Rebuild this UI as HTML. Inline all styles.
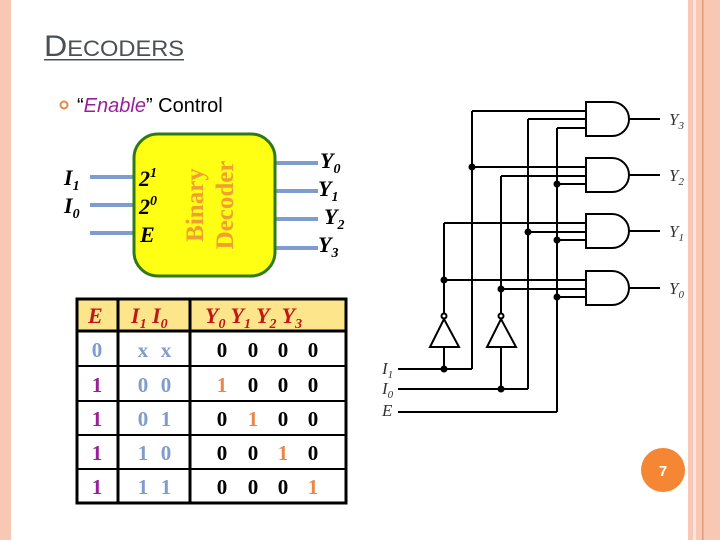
<!DOCTYPE html>
<html><head><meta charset="utf-8"><style>
body{margin:0;width:720px;height:540px;overflow:hidden;background:#fff}
svg{display:block}
</style></head><body>
<svg width="720" height="540" viewBox="0 0 720 540" xmlns="http://www.w3.org/2000/svg" font-family="Liberation Serif, serif">
<rect x="0" y="0" width="11" height="540" fill="#f8c8b4"/>
<rect x="688" y="0" width="32" height="540" fill="#f8c8b4"/>
<rect x="693" y="0" width="3" height="540" fill="#fce4d8"/>
<rect x="702" y="0" width="1.5" height="540" fill="#e59a7a"/>
<!-- title -->
<text x="44" y="56" font-family="Liberation Sans, sans-serif" fill="#4a5055" font-size="30" textLength="140" lengthAdjust="spacingAndGlyphs">D<tspan font-size="22">ECODERS</tspan></text>
<rect x="44" y="59" width="140" height="1.5" fill="#4a5055"/>
<circle cx="64" cy="105" r="3.5" fill="none" stroke="#e8874a" stroke-width="2"/>
<text x="77" y="112" font-family="Liberation Sans, sans-serif" font-size="20" fill="#000">“<tspan fill="#9a1f9a" font-style="italic">Enable</tspan>” Control</text>
<!-- block -->
<g stroke="#7f9ccf" stroke-width="4">
<line x1="90" y1="177" x2="134" y2="177"/><line x1="90" y1="205" x2="134" y2="205"/><line x1="90" y1="233" x2="134" y2="233"/>
<line x1="275" y1="163" x2="318" y2="163"/><line x1="275" y1="191" x2="318" y2="191"/><line x1="275" y1="219" x2="318" y2="219"/><line x1="275" y1="248" x2="318" y2="248"/>
</g>
<rect x="134" y="134" width="141" height="142" rx="24" fill="#ffff14" stroke="#2f7a16" stroke-width="3"/>
<g font-weight="bold" font-style="italic" font-size="22" fill="#000">
<text x="64" y="185">I<tspan font-size="14" dy="5">1</tspan></text>
<text x="64" y="213">I<tspan font-size="14" dy="5">0</tspan></text>
<text x="139" y="186">2<tspan font-size="14" dy="-9">1</tspan></text>
<text x="139" y="214">2<tspan font-size="14" dy="-9">0</tspan></text>
<text x="140" y="242">E</text>
<text x="320" y="168">Y<tspan font-size="14" dy="5">0</tspan></text>
<text x="318" y="196">Y<tspan font-size="14" dy="5">1</tspan></text>
<text x="324" y="224">Y<tspan font-size="14" dy="5">2</tspan></text>
<text x="318" y="252">Y<tspan font-size="14" dy="5">3</tspan></text>
</g>
<g font-size="25" font-weight="bold" fill="#f0a030" text-anchor="middle">
<text transform="translate(203,205) rotate(-90)">Binary</text>
<text transform="translate(233,205) rotate(-90)">Decoder</text>
</g>
<!-- table -->
<rect x="77" y="299" width="269" height="31" fill="#fce58a"/>
<g stroke="#000" stroke-width="3" fill="none">
<rect x="77" y="299" width="269" height="204"/>
<line x1="118" y1="299" x2="118" y2="503"/><line x1="190" y1="299" x2="190" y2="503"/>
<line x1="77" y1="331" x2="346" y2="331"/>
</g>
<g stroke="#000" stroke-width="2">
<line x1="77" y1="366" x2="346" y2="366"/><line x1="77" y1="401" x2="346" y2="401"/>
<line x1="77" y1="435" x2="346" y2="435"/><line x1="77" y1="469" x2="346" y2="469"/>
</g>
<g font-weight="bold" font-style="italic" font-size="22" fill="#c01818">
<text x="88" y="323">E</text>
<text x="131" y="323">I<tspan font-size="14" dy="5">1</tspan><tspan dy="-5"> I</tspan><tspan font-size="14" dy="5">0</tspan></text>
<text x="205" y="323">Y<tspan font-size="14" dy="5">0</tspan><tspan dy="-5"> Y</tspan><tspan font-size="14" dy="5">1</tspan><tspan dy="-5"> Y</tspan><tspan font-size="14" dy="5">2</tspan><tspan dy="-5"> Y</tspan><tspan font-size="14" dy="5">3</tspan></text>
</g>
<g font-size="21" font-weight="bold" text-anchor="middle">
<text x="97" y="357" fill="#7f9ccf">0</text>
<text x="97" y="392" fill="#9a1f9a">1</text><text x="97" y="426" fill="#9a1f9a">1</text><text x="97" y="460" fill="#9a1f9a">1</text><text x="97" y="494" fill="#9a1f9a">1</text>
<g fill="#7f9ccf"><text x="143" y="357">x</text><text x="166" y="357">x</text>
<text x="143" y="392">0</text><text x="166" y="392">0</text>
<text x="143" y="426">0</text><text x="166" y="426">1</text>
<text x="143" y="460">1</text><text x="166" y="460">0</text>
<text x="143" y="494">1</text><text x="166" y="494">1</text></g>
<g fill="#000">
<text x="222" y="357">0</text><text x="253" y="357">0</text><text x="283" y="357">0</text><text x="313" y="357">0</text>
<text x="222" y="392" fill="#e8874a">1</text><text x="253" y="392">0</text><text x="283" y="392">0</text><text x="313" y="392">0</text>
<text x="222" y="426">0</text><text x="253" y="426" fill="#e8874a">1</text><text x="283" y="426">0</text><text x="313" y="426">0</text>
<text x="222" y="460">0</text><text x="253" y="460">0</text><text x="283" y="460" fill="#e8874a">1</text><text x="313" y="460">0</text>
<text x="222" y="494">0</text><text x="253" y="494">0</text><text x="283" y="494">0</text><text x="313" y="494" fill="#e8874a">1</text>
</g>
</g>
<!-- circuit -->
<g stroke="#000" stroke-width="2" fill="none">
<line x1="398" y1="369" x2="472" y2="369"/><line x1="472" y1="369" x2="472" y2="111"/><line x1="472" y1="111" x2="586" y2="111"/>
<line x1="398" y1="389" x2="528" y2="389"/><line x1="528" y1="389" x2="528" y2="119"/><line x1="528" y1="119" x2="586" y2="119"/>
<line x1="398" y1="412" x2="557" y2="412"/><line x1="557" y1="412" x2="557" y2="128"/><line x1="557" y1="128" x2="586" y2="128"/>
<line x1="444" y1="369" x2="444" y2="347"/><line x1="444" y1="314" x2="444" y2="223"/><line x1="444" y1="223" x2="586" y2="223"/>
<line x1="501" y1="389" x2="501" y2="347"/><line x1="501" y1="314" x2="501" y2="176"/><line x1="501" y1="176" x2="586" y2="176"/>
<line x1="472" y1="167" x2="586" y2="167"/><line x1="557" y1="184" x2="586" y2="184"/>
<line x1="528" y1="232" x2="586" y2="232"/><line x1="557" y1="240" x2="586" y2="240"/>
<line x1="444" y1="280" x2="586" y2="280"/><line x1="501" y1="289" x2="586" y2="289"/><line x1="557" y1="297" x2="586" y2="297"/>
<polygon points="430,347 459,347 444,319"/><circle cx="444" cy="316" r="2.5"/>
<polygon points="487,347 516,347 501,319"/><circle cx="501" cy="316" r="2.5"/>
<g fill="#fff">
<path d="M586,102 h26 a17,17 0 0 1 0,34 h-26 z"/>
<path d="M586,158 h26 a17,17 0 0 1 0,34 h-26 z"/>
<path d="M586,214 h26 a17,17 0 0 1 0,34 h-26 z"/>
<path d="M586,271 h26 a17,17 0 0 1 0,34 h-26 z"/>
</g>
<line x1="629" y1="119" x2="660" y2="119"/><line x1="629" y1="175" x2="660" y2="175"/>
<line x1="629" y1="231" x2="660" y2="231"/><line x1="629" y1="288" x2="660" y2="288"/>
</g>
<g fill="#000">
<circle cx="444" cy="369" r="3.5"/><circle cx="501" cy="389" r="3.5"/>
<circle cx="472" cy="167" r="3.5"/><circle cx="557" cy="184" r="3.5"/>
<circle cx="528" cy="232" r="3.5"/><circle cx="557" cy="240" r="3.5"/>
<circle cx="444" cy="280" r="3.5"/><circle cx="501" cy="289" r="3.5"/><circle cx="557" cy="297" r="3.5"/>
</g>
<g font-style="italic" font-size="17" fill="#333">
<text x="669" y="125">Y<tspan font-size="11" dy="4">3</tspan></text>
<text x="669" y="181">Y<tspan font-size="11" dy="4">2</tspan></text>
<text x="669" y="237">Y<tspan font-size="11" dy="4">1</tspan></text>
<text x="669" y="294">Y<tspan font-size="11" dy="4">0</tspan></text>
<text x="382" y="374">I<tspan font-size="11" dy="4">1</tspan></text>
<text x="382" y="394">I<tspan font-size="11" dy="4">0</tspan></text>
<text x="382" y="416">E</text>
</g>
<circle cx="663" cy="470" r="22" fill="#f58634"/>
<text x="663" y="476" text-anchor="middle" font-family="Liberation Sans, sans-serif" font-weight="bold" font-size="15" fill="#fff">7</text>
</svg>
</body></html>
